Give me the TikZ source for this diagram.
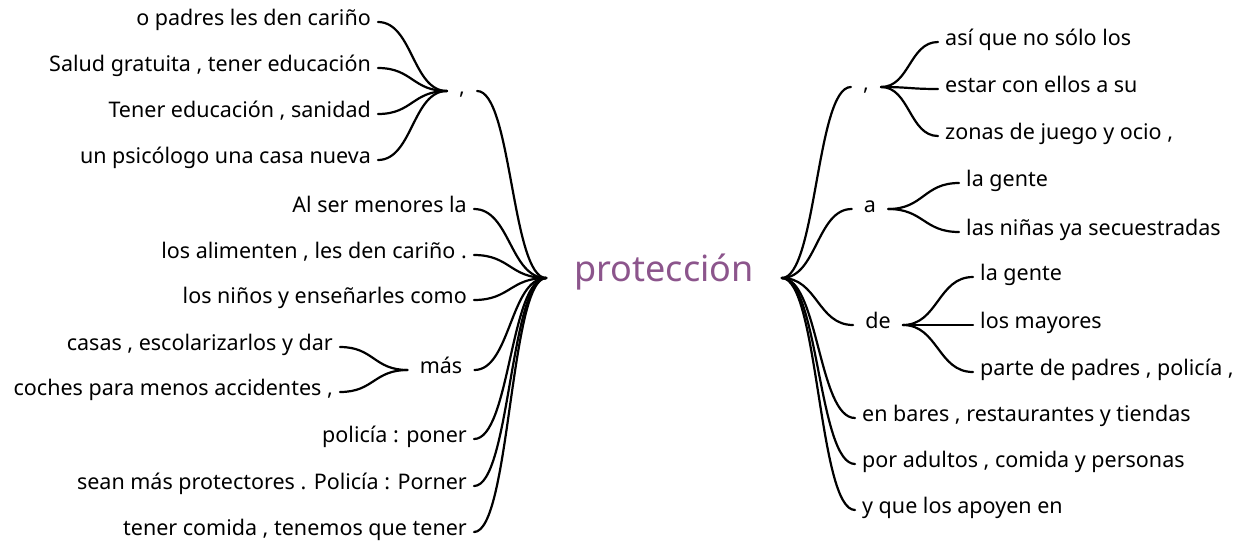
\documentclass[tikz,border=0pt]{standalone}
\usepackage{fontspec}
\setmainfont{Noto Sans}
\usetikzlibrary{calc}
\definecolor{violeta}{RGB}{140,85,140}

\begin{document}
\begin{tikzpicture}[x=1pt,y=-1pt,
  leaf/.style={shape=rectangle, font=\fontsize{21.5}{24}\selectfont, inner xsep=7pt, inner ysep=0pt, text height=1.2ex, text depth=0pt},
  junct/.style={leaf, inner xsep=12pt},
  wt/.style={to path={let \p1=(\tikztostart), \p2=(\tikztotarget) in .. controls ({(\x1+\x2)/2},\y1) and ({(\x1+\x2)/2},\y2) .. (\tikztotarget)}},
  link/.style={draw, line width=2.2pt, line cap=round, wt}]
\useasboundingbox (0,0) rectangle (1244,547);

% centre
\path (664,278) node (P) [shape=rectangle, font=\fontsize{36}{40}\selectfont, text=violeta, inner xsep=28pt, inner ysep=0pt, text height=1.2ex, text depth=0pt] {protección};

% left side
\path (378,22) node (A1) [leaf,anchor=east] {o padres les den cariño};
\path (378,68) node (A2) [leaf,anchor=east] {Salud gratuita , tener educación};
\path (378,114) node (A3) [leaf,anchor=east] {Tener educación , sanidad};
\path (378,160) node (A4) [leaf,anchor=east] {un psicólogo una casa nueva};
\path (462,91) node (A) [junct] {,};

\path (474,209) node (B1) [leaf,anchor=east] {Al ser menores la};
\path (474,255) node (B2) [leaf,anchor=east] {los alimenten , les den cariño .};
\path (474,300) node (B3) [leaf,anchor=east] {los niños y enseñarles como};

\path (340,347) node (C1) [leaf,anchor=east] {casas , escolarizarlos y dar};
\path (340,392) node (C2) [leaf,anchor=east] {coches para menos accidentes ,};
\path (441,370) node (C) [junct] {más};

\path (474,439) node (B4) [leaf,anchor=east] {policía : poner};
\path (474,486) node (B5) [leaf,anchor=east] {sean más protectores . Policía : Porner};
\path (474,532) node (B6) [leaf,anchor=east] {tener comida , tenemos que tener};

% right side
\path (866,87) node (D) [junct] {,};
\path (938,42) node (D1) [leaf,anchor=west] {así que no sólo los};
\path (938,89) node (D2) [leaf,anchor=west] {estar con ellos a su};
\path (938,136) node (D3) [leaf,anchor=west] {zonas de juego y ocio ,};

\path (870,209) node (E) [junct] {a};
\path (959,183) node (E1) [leaf,anchor=west] {la gente};
\path (959,232) node (E2) [leaf,anchor=west] {las niñas ya secuestradas};

\path (878,325) node (F) [junct] {de};
\path (973,277) node (F1) [leaf,anchor=west] {la gente};
\path (973,325) node (F2) [leaf,anchor=west] {los mayores};
\path (973,372) node (F3) [leaf,anchor=west] {parte de padres , policía ,};

\path (855,418) node (G1) [leaf,anchor=west] {en bares , restaurantes y tiendas};
\path (855,464) node (G2) [leaf,anchor=west] {por adultos , comida y personas};
\path (855,510) node (G3) [leaf,anchor=west] {y que los apoyen en};

% links
\foreach \k in {A1,A2,A3,A4} \draw[link] (\k.east) to (A.west);
\foreach \k in {C1,C2} \draw[link] (\k.east) to (C.west);
\foreach \k in {A,B1,B2,B3,C,B4,B5,B6} \draw[link] (\k.east) to (P.west);
\foreach \k in {D,E,F,G1,G2,G3} \draw[link] (P.east) to (\k.west);
\foreach \k in {D1,D2,D3} \draw[link] (D.east) to (\k.west);
\foreach \k in {E1,E2} \draw[link] (E.east) to (\k.west);
\foreach \k in {F1,F2,F3} \draw[link] (F.east) to (\k.west);

\end{tikzpicture}
\end{document}
